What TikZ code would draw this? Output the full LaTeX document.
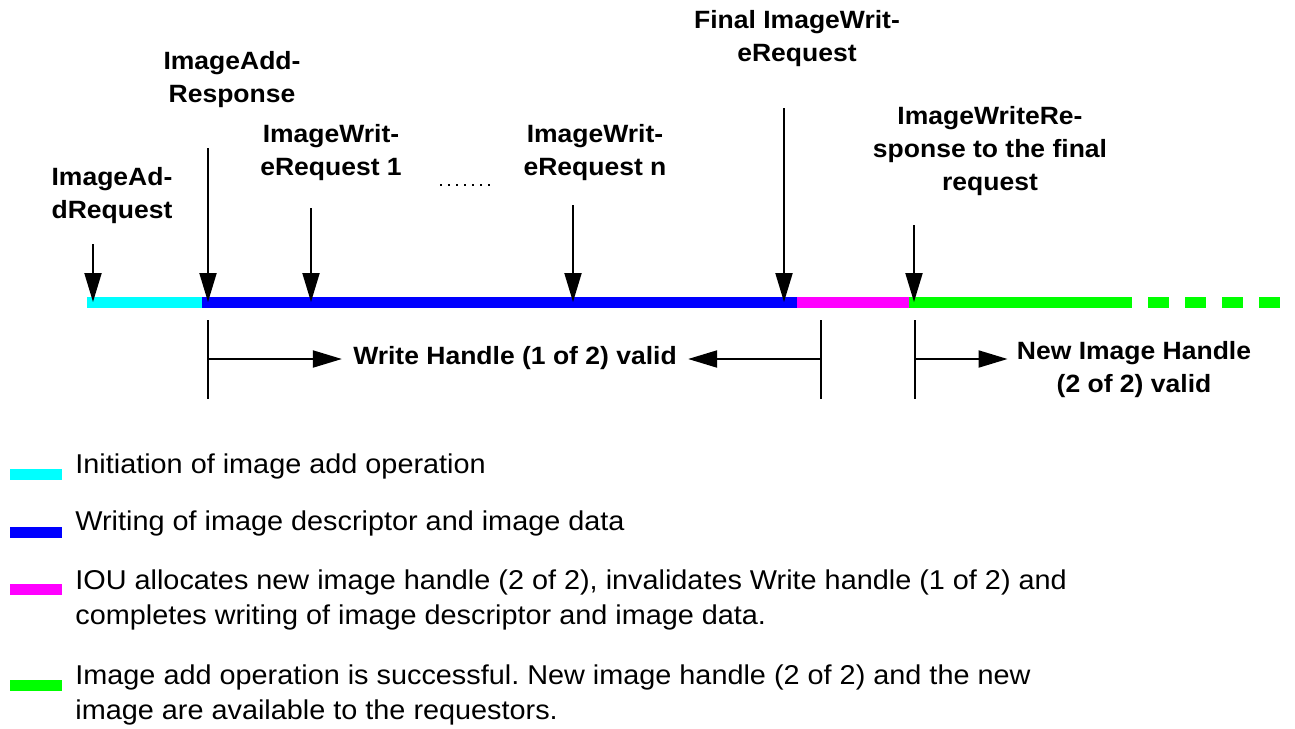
\documentclass[tikz,border=0pt]{standalone}
\usepackage{fontspec}
\setmainfont{Liberation Sans}
\newfontfamily\labelfont[FakeStretch=1.06]{Liberation Sans}
\newfontfamily\legendfont[FakeStretch=1.06]{Liberation Sans}
\usetikzlibrary{arrows.meta, positioning}
\definecolor{barCyan}{RGB}{0,255,255}
\definecolor{barBlue}{RGB}{0,0,255}
\definecolor{barMagenta}{RGB}{255,0,255}
\definecolor{barGreen}{RGB}{0,255,0}
\frenchspacing

\begin{document}
\begin{tikzpicture}[
    x=0.5pt, y=-0.5pt,
    lbl/.style={align=center, inner sep=0pt,
      font=\labelfont\bfseries\fontsize{12.5}{16.5}\selectfont},
    leg/.style={anchor=base west, align=left, inner sep=0pt,
      font=\legendfont\fontsize{13.6}{17.5}\selectfont},
    swatch/.style={rectangle, inner sep=0pt, minimum width=26pt,
      minimum height=5.5pt, anchor=south west},
    seg/.style={line width=5.5pt},
    arr/.style={-{Triangle[length=14.5pt, width=8.5pt]}, line width=1pt},
    tick/.style={line width=1pt}
  ]
    \useasboundingbox (0,0) rectangle (1295,728);

    \coordinate (b0) at (87,302);
    \coordinate (b1) at (202,302);
    \coordinate (b2) at (797,302);
    \coordinate (b3) at (808,302);
    \coordinate (b4) at (909,302);
    \coordinate (b5) at (1132,302);
    \coordinate (b6) at (1148,302);
    \coordinate (b7) at (1280,302);

    \draw[seg, barCyan] (b0) -- (b1);
    \draw[seg, barBlue] (b1) -- (b3);
    \draw[seg, barMagenta] (b2) -- (b4);
    \draw[seg, barGreen] (b4) -- (b5);
    \draw[seg, barGreen, dash pattern=on 10.5pt off 8pt] (b6) -- (b7);

    \node[lbl] (addreq) at (112,196) {ImageAd-\\dRequest};
    \node[lbl] (addresp) at (232,80) {ImageAdd-\\Response};
    \node[lbl] (wr1) at (331,153) {ImageWrit-\\eRequest 1};
    \node[lbl] (wrn) at (595,153) {ImageWrit-\\eRequest n};
    \node[lbl] (wrfin) at (797,39) {Final ImageWrit-\\eRequest};
    \node[lbl] (wresp) at (990,151) {ImageWriteRe-\\sponse to the final\\request};

    \coordinate (s1) at (93,244);
    \coordinate (s2) at (208,148);
    \coordinate (s3) at (311,208);
    \coordinate (s4) at (573,205);
    \coordinate (s5) at (784,108);
    \coordinate (s6) at (914,225);

    \draw[arr] (s1) -- (s1 |- b0);
    \draw[arr] (s2) -- (s2 |- b0);
    \draw[arr] (s3) -- (s3 |- b0);
    \draw[arr] (s4) -- (s4 |- b0);
    \draw[arr] (s5) -- (s5 |- b0);
    \draw[arr] (s6) -- (s6 |- b0);

    \coordinate (dots) at (440,185);
    \draw[line width=1pt, dash pattern=on 1pt off 3pt] (dots) -- ++(56,0);

    \coordinate (t1) at (208,320);
    \coordinate (t2) at (821,320);
    \coordinate (t3) at (915,320);
    \draw[tick] (t1) -- ++(0,79);
    \draw[tick] (t2) -- ++(0,79);
    \draw[tick] (t3) -- ++(0,79);

    \node[lbl, inner xsep=5.5pt] (wh) at (515,358) {Write Handle (1 of 2) valid};
    \node[lbl, inner xsep=4.5pt] (nih) at (1134,370) {New Image Handle\\(2 of 2) valid};

    \coordinate (h1) at (208,359);
    \coordinate (h2) at (821,359);
    \coordinate (h3) at (915,359);
    \draw[arr] (h1) -- (h1 -| wh.west);
    \draw[arr] (h2) -- (h2 -| wh.east);
    \draw[arr] (h3) -- (h3 -| nih.west);

    \node[swatch, fill=barCyan] (k1) at (10,480) {};
    \node[leg] (l1) at (75,473) {Initiation of image add operation};
    \node[swatch, fill=barBlue] (k2) at (10,538) {};
    \node[leg] (l2) at (75,530) {Writing of image descriptor and image data};
    \node[swatch, fill=barMagenta] (k3) at (10,595) {};
    \node[leg] (l3) at (75,624) {IOU allocates new image handle (2 of 2), invalidates Write handle (1 of 2) and\\completes writing of image descriptor and image data.};
    \node[swatch, fill=barGreen] (k4) at (10,691) {};
    \node[leg] (l4) at (75,719) {Image add operation is successful. New image handle (2 of 2) and the new\\image are available to the requestors.};
\end{tikzpicture}
\end{document}
